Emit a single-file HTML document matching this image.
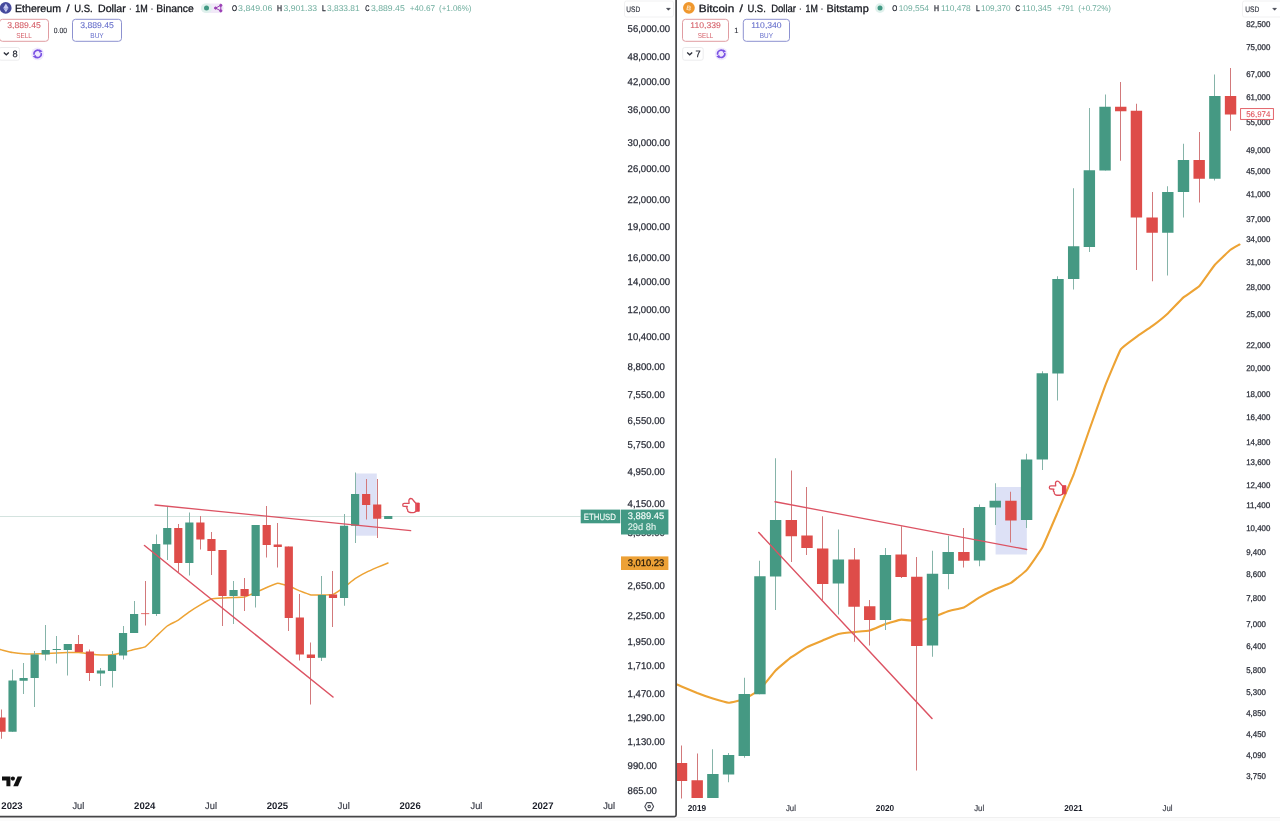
<!DOCTYPE html>
<html lang="en"><head><meta charset="utf-8"><title>ETHUSD / BTCUSD monthly charts</title>
<style>html,body{margin:0;padding:0;background:#fff;}body{width:1280px;height:821px;overflow:hidden;}svg{display:block;}text{font-family:"Liberation Sans",Arial,sans-serif;}</style>
</head><body>
<svg width="1280" height="821" viewBox="0 0 1280 821" font-family="'Liberation Sans', Arial, sans-serif">
<defs><clipPath id="cl"><rect x="0" y="0" width="675.3" height="815.8"/></clipPath><clipPath id="cr"><rect x="677.1" y="0" width="603" height="817"/></clipPath></defs>
<rect width="1280" height="821" fill="#fff"/>
<rect x="0" y="817.4" width="1280" height="3.6" fill="#fbfbfb"/>
<rect x="677" y="817" width="603" height="1" fill="#f0f0f0"/>
<line x1="0" y1="516.5" x2="580.7" y2="516.5" stroke="#d4e3df" stroke-width="1"/>
<rect x="355.6" y="473.5" width="21.2" height="62.2" fill="#dde1f6"/>
<path d="M0.00 649.50 C0.07 649.52 0.87 649.71 1.50 649.86 C2.13 650.01 11.45 652.31 12.55 652.51 C13.66 652.70 22.50 653.76 23.60 653.83 C24.71 653.91 33.55 654.01 34.65 653.99 C35.76 653.97 44.60 653.52 45.70 653.47 C46.80 653.42 55.64 653.02 56.75 652.97 C57.86 652.92 66.70 652.52 67.80 652.50 C68.91 652.48 77.75 652.47 78.85 652.55 C79.96 652.62 88.80 653.91 89.90 654.04 C91.01 654.16 99.84 654.96 100.95 655.00 C102.06 655.03 110.89 654.83 112.00 654.70 C113.11 654.57 121.95 652.75 123.05 652.49 C124.16 652.23 133.00 649.76 134.10 649.48 C135.21 649.19 144.05 647.49 145.15 646.83 C146.25 646.17 155.10 637.34 156.20 636.29 C157.31 635.25 166.15 626.79 167.25 625.98 C168.35 625.17 177.20 620.81 178.30 620.10 C179.41 619.39 188.25 612.54 189.35 611.78 C190.46 611.01 199.30 605.42 200.40 604.78 C201.50 604.14 210.35 599.30 211.45 598.96 C212.56 598.62 221.40 598.05 222.50 597.98 C223.60 597.91 232.45 597.55 233.55 597.50 C234.66 597.45 243.50 597.21 244.60 596.96 C245.71 596.71 254.55 592.91 255.65 592.43 C256.75 591.96 265.60 587.98 266.70 587.52 C267.81 587.06 276.64 583.33 277.75 583.25 C278.86 583.17 287.69 585.57 288.80 585.95 C289.91 586.34 298.75 590.48 299.85 590.93 C300.96 591.38 309.80 594.76 310.90 594.96 C312.01 595.17 320.85 595.03 321.95 595.00 C323.06 594.97 331.89 594.73 333.00 594.34 C334.11 593.95 342.94 588.05 344.05 587.27 C345.16 586.48 354.00 579.43 355.10 578.69 C356.21 577.95 365.05 573.00 366.15 572.43 C367.26 571.87 376.11 567.89 377.20 567.42 C378.29 566.95 387.46 563.22 388.00 563.00" fill="none" stroke="#eda334" stroke-width="1.5" stroke-linejoin="round" stroke-linecap="round"/>
<g clip-path="url(#cl)">
<rect x="1" y="709.50" width="1" height="29.25" fill="#d2797b"/>
<rect x="-2.60" y="717.50" width="8.2" height="14.25" fill="#de4c49"/>
<rect x="12" y="669.50" width="1" height="62.25" fill="#86b4a9"/>
<rect x="8.45" y="680.50" width="8.2" height="51.25" fill="#459983"/>
<rect x="23" y="663.00" width="1" height="31.00" fill="#86b4a9"/>
<rect x="19.50" y="678.00" width="8.2" height="2.75" fill="#459983"/>
<rect x="34" y="651.00" width="1" height="56.00" fill="#86b4a9"/>
<rect x="30.55" y="654.50" width="8.2" height="23.50" fill="#459983"/>
<rect x="45" y="625.00" width="1" height="35.50" fill="#86b4a9"/>
<rect x="41.60" y="650.00" width="8.2" height="4.50" fill="#459983"/>
<rect x="56" y="636.00" width="1" height="27.50" fill="#86b4a9"/>
<rect x="52.65" y="649.00" width="8.2" height="1.00" fill="#459983"/>
<rect x="67" y="644.00" width="1" height="31.50" fill="#86b4a9"/>
<rect x="63.70" y="644.00" width="8.2" height="6.00" fill="#459983"/>
<rect x="78" y="635.00" width="1" height="17.00" fill="#d2797b"/>
<rect x="74.75" y="644.00" width="8.2" height="8.00" fill="#de4c49"/>
<rect x="89" y="649.50" width="1" height="31.50" fill="#d2797b"/>
<rect x="85.80" y="651.50" width="8.2" height="21.50" fill="#de4c49"/>
<rect x="100" y="668.00" width="1" height="18.00" fill="#86b4a9"/>
<rect x="96.85" y="670.50" width="8.2" height="3.00" fill="#459983"/>
<rect x="112" y="651.00" width="1" height="36.50" fill="#86b4a9"/>
<rect x="107.90" y="655.00" width="8.2" height="16.00" fill="#459983"/>
<rect x="123" y="626.00" width="1" height="33.50" fill="#86b4a9"/>
<rect x="118.95" y="633.00" width="8.2" height="22.50" fill="#459983"/>
<rect x="134" y="601.00" width="1" height="32.00" fill="#86b4a9"/>
<rect x="130.00" y="614.00" width="8.2" height="19.00" fill="#459983"/>
<rect x="145" y="581.00" width="1" height="44.50" fill="#d2797b"/>
<rect x="141.05" y="613.30" width="8.2" height="0.80" fill="#de4c49"/>
<rect x="156" y="534.50" width="1" height="81.50" fill="#86b4a9"/>
<rect x="152.10" y="544.00" width="8.2" height="70.00" fill="#459983"/>
<rect x="167" y="507.00" width="1" height="53.00" fill="#86b4a9"/>
<rect x="163.15" y="528.00" width="8.2" height="16.50" fill="#459983"/>
<rect x="178" y="524.00" width="1" height="48.00" fill="#d2797b"/>
<rect x="174.20" y="528.00" width="8.2" height="35.00" fill="#de4c49"/>
<rect x="189" y="512.50" width="1" height="63.00" fill="#86b4a9"/>
<rect x="185.25" y="522.50" width="8.2" height="40.50" fill="#459983"/>
<rect x="200" y="516.00" width="1" height="33.50" fill="#d2797b"/>
<rect x="196.30" y="522.50" width="8.2" height="17.00" fill="#de4c49"/>
<rect x="211" y="532.00" width="1" height="43.00" fill="#d2797b"/>
<rect x="207.35" y="539.00" width="8.2" height="12.00" fill="#de4c49"/>
<rect x="222" y="550.00" width="1" height="76.00" fill="#d2797b"/>
<rect x="218.40" y="550.00" width="8.2" height="46.00" fill="#de4c49"/>
<rect x="233" y="581.00" width="1" height="43.00" fill="#86b4a9"/>
<rect x="229.45" y="590.00" width="8.2" height="6.00" fill="#459983"/>
<rect x="244" y="578.00" width="1" height="33.00" fill="#d2797b"/>
<rect x="240.50" y="589.00" width="8.2" height="7.00" fill="#de4c49"/>
<rect x="255" y="525.00" width="1" height="82.50" fill="#86b4a9"/>
<rect x="251.55" y="525.00" width="8.2" height="71.00" fill="#459983"/>
<rect x="266" y="506.00" width="1" height="51.50" fill="#d2797b"/>
<rect x="262.60" y="525.00" width="8.2" height="20.00" fill="#de4c49"/>
<rect x="277" y="523.00" width="1" height="44.50" fill="#d2797b"/>
<rect x="273.65" y="544.50" width="8.2" height="2.50" fill="#de4c49"/>
<rect x="288" y="546.50" width="1" height="84.50" fill="#d2797b"/>
<rect x="284.70" y="546.50" width="8.2" height="71.50" fill="#de4c49"/>
<rect x="299" y="594.00" width="1" height="66.50" fill="#d2797b"/>
<rect x="295.75" y="617.50" width="8.2" height="37.00" fill="#de4c49"/>
<rect x="310" y="642.50" width="1" height="62.00" fill="#d2797b"/>
<rect x="306.80" y="654.50" width="8.2" height="3.50" fill="#de4c49"/>
<rect x="321" y="576.00" width="1" height="85.00" fill="#86b4a9"/>
<rect x="317.85" y="595.00" width="8.2" height="62.75" fill="#459983"/>
<rect x="332" y="571.00" width="1" height="56.00" fill="#d2797b"/>
<rect x="328.90" y="594.50" width="8.2" height="3.50" fill="#de4c49"/>
<rect x="344" y="514.00" width="1" height="91.75" fill="#86b4a9"/>
<rect x="339.95" y="525.75" width="8.2" height="72.25" fill="#459983"/>
<rect x="355" y="472.50" width="1" height="70.50" fill="#86b4a9"/>
<rect x="351.00" y="494.00" width="8.2" height="31.75" fill="#459983"/>
<rect x="366" y="479.00" width="1" height="40.50" fill="#d2797b"/>
<rect x="362.05" y="494.00" width="8.2" height="11.00" fill="#de4c49"/>
<rect x="377" y="479.00" width="1" height="59.00" fill="#d2797b"/>
<rect x="373.10" y="504.50" width="8.2" height="14.25" fill="#de4c49"/>
<rect x="388" y="516.00" width="1" height="3.00" fill="#86b4a9"/>
<rect x="384.15" y="516.00" width="8.2" height="3.00" fill="#459983"/>
</g>
<line x1="155" y1="505" x2="410.7" y2="530.7" stroke="#dc5363" stroke-width="1.3" stroke-linecap="round"/>
<line x1="144.5" y1="545.5" x2="333" y2="697" stroke="#dc5363" stroke-width="1.5" stroke-linecap="round"/>
<g transform="translate(402.00,497.60) scale(1.0,1.04)" fill="#fff" stroke="#dc4c5a" stroke-width="1.3" stroke-linejoin="round" stroke-linecap="round"><path d="M14 5.7 L11.2 2.5 C10.5 1.3 9.7 0.9 8.8 0.9 C7.5 0.9 6.7 2 6.9 3.5 L7.1 5.5 L2.3 5.5 C0.2 5.5 0.2 8.5 2.3 8.5 L5.3 8.6 C4.6 9.6 4.8 10.8 5.6 11.4 C5.4 12.6 6 13.6 7 14 C8.5 14.6 11 14.5 12.3 14.2 L14 13.3 Z"/><rect x="14.3" y="5.2" width="3" height="8" fill="#e0434e" stroke="#e0434e" stroke-width="0.8"/></g>
<rect x="995.6" y="487" width="31.2" height="67.5" fill="#dde1f6"/>
<path d="M677.00 684.50 C677.23 684.60 680.49 686.01 681.50 686.44 C682.51 686.86 695.62 692.42 697.19 693.03 C698.76 693.64 711.31 698.12 712.87 698.60 C714.44 699.09 726.99 702.69 728.56 702.72 C730.13 702.75 742.68 699.87 744.25 699.21 C745.82 698.55 758.37 690.95 759.93 689.51 C761.50 688.07 774.05 672.09 775.62 670.47 C777.19 668.86 789.74 658.38 791.31 657.21 C792.88 656.04 805.43 647.92 807.00 647.08 C808.56 646.24 821.11 641.08 822.68 640.42 C824.25 639.77 836.80 634.37 838.37 633.96 C839.94 633.54 852.49 632.27 854.06 632.09 C855.63 631.92 868.18 630.90 869.74 630.50 C871.31 630.10 883.86 624.57 885.43 624.03 C887.00 623.49 899.55 619.79 901.12 619.64 C902.69 619.48 915.24 621.09 916.80 620.98 C918.37 620.86 930.92 617.89 932.49 617.40 C934.06 616.91 946.61 611.65 948.18 611.15 C949.75 610.65 962.30 608.12 963.87 607.43 C965.43 606.73 977.98 598.25 979.55 597.34 C981.12 596.44 993.67 589.98 995.24 589.26 C996.81 588.53 1009.36 583.81 1010.93 582.86 C1012.50 581.90 1025.05 571.88 1026.61 570.11 C1028.18 568.35 1040.73 550.49 1042.30 547.56 C1043.87 544.62 1056.42 515.02 1057.99 511.36 C1059.56 507.71 1072.11 478.56 1073.67 474.48 C1075.24 470.40 1087.79 434.18 1089.36 429.76 C1090.93 425.35 1103.48 390.15 1105.05 386.13 C1106.62 382.11 1119.17 351.87 1120.74 349.41 C1122.30 346.95 1134.85 338.04 1136.42 336.88 C1137.99 335.72 1150.54 327.33 1152.11 326.16 C1153.68 324.99 1166.23 314.86 1167.80 313.41 C1169.37 311.97 1181.92 298.69 1183.48 297.34 C1185.05 295.98 1197.60 287.94 1199.17 286.31 C1200.74 284.67 1213.29 266.53 1214.86 264.70 C1216.43 262.87 1229.31 250.72 1230.55 249.71 C1231.78 248.70 1239.05 244.76 1239.50 244.50" fill="none" stroke="#eda334" stroke-width="2.1" stroke-linejoin="round" stroke-linecap="round"/>
<g clip-path="url(#cr)">
<rect x="681" y="745.50" width="1" height="53.00" fill="#d2797b"/>
<rect x="675.80" y="763.00" width="11.4" height="18.00" fill="#de4c49"/>
<rect x="697" y="753.50" width="1" height="44.50" fill="#d2797b"/>
<rect x="691.49" y="780.25" width="11.4" height="17.75" fill="#de4c49"/>
<rect x="712" y="749.25" width="1" height="48.75" fill="#86b4a9"/>
<rect x="707.17" y="774.00" width="11.4" height="24.00" fill="#459983"/>
<rect x="728" y="753.00" width="1" height="29.25" fill="#86b4a9"/>
<rect x="722.86" y="755.00" width="11.4" height="19.50" fill="#459983"/>
<rect x="744" y="677.75" width="1" height="80.00" fill="#86b4a9"/>
<rect x="738.55" y="694.00" width="11.4" height="62.00" fill="#459983"/>
<rect x="759" y="560.75" width="1" height="133.50" fill="#86b4a9"/>
<rect x="754.23" y="576.25" width="11.4" height="118.00" fill="#459983"/>
<rect x="775" y="458.25" width="1" height="151.75" fill="#86b4a9"/>
<rect x="769.92" y="520.00" width="11.4" height="56.50" fill="#459983"/>
<rect x="791" y="470.50" width="1" height="91.50" fill="#d2797b"/>
<rect x="785.61" y="520.00" width="11.4" height="16.25" fill="#de4c49"/>
<rect x="806" y="487.00" width="1" height="68.00" fill="#d2797b"/>
<rect x="801.30" y="535.50" width="11.4" height="12.50" fill="#de4c49"/>
<rect x="822" y="516.25" width="1" height="83.75" fill="#d2797b"/>
<rect x="816.98" y="548.50" width="11.4" height="35.50" fill="#de4c49"/>
<rect x="838" y="529.50" width="1" height="85.00" fill="#86b4a9"/>
<rect x="832.67" y="559.50" width="11.4" height="24.00" fill="#459983"/>
<rect x="854" y="548.00" width="1" height="93.75" fill="#d2797b"/>
<rect x="848.36" y="559.50" width="11.4" height="47.25" fill="#de4c49"/>
<rect x="869" y="600.00" width="1" height="45.50" fill="#d2797b"/>
<rect x="864.04" y="606.25" width="11.4" height="13.75" fill="#de4c49"/>
<rect x="885" y="548.00" width="1" height="82.00" fill="#86b4a9"/>
<rect x="879.73" y="555.00" width="11.4" height="65.00" fill="#459983"/>
<rect x="901" y="526.25" width="1" height="51.75" fill="#d2797b"/>
<rect x="895.42" y="554.50" width="11.4" height="22.50" fill="#de4c49"/>
<rect x="916" y="557.00" width="1" height="213.50" fill="#d2797b"/>
<rect x="911.10" y="576.75" width="11.4" height="69.25" fill="#de4c49"/>
<rect x="932" y="550.75" width="1" height="106.00" fill="#86b4a9"/>
<rect x="926.79" y="573.75" width="11.4" height="71.75" fill="#459983"/>
<rect x="948" y="535.75" width="1" height="53.50" fill="#86b4a9"/>
<rect x="942.48" y="552.00" width="11.4" height="22.00" fill="#459983"/>
<rect x="963" y="528.00" width="1" height="39.50" fill="#d2797b"/>
<rect x="958.17" y="552.00" width="11.4" height="8.75" fill="#de4c49"/>
<rect x="979" y="504.50" width="1" height="61.75" fill="#86b4a9"/>
<rect x="973.85" y="507.00" width="11.4" height="53.50" fill="#459983"/>
<rect x="995" y="483.25" width="1" height="41.75" fill="#86b4a9"/>
<rect x="989.54" y="500.75" width="11.4" height="6.75" fill="#459983"/>
<rect x="1010" y="491.75" width="1" height="50.75" fill="#d2797b"/>
<rect x="1005.23" y="500.75" width="11.4" height="19.75" fill="#de4c49"/>
<rect x="1026" y="453.75" width="1" height="74.25" fill="#86b4a9"/>
<rect x="1020.91" y="459.50" width="11.4" height="60.50" fill="#459983"/>
<rect x="1042" y="371.25" width="1" height="98.75" fill="#86b4a9"/>
<rect x="1036.60" y="373.25" width="11.4" height="86.25" fill="#459983"/>
<rect x="1057" y="276.25" width="1" height="124.25" fill="#86b4a9"/>
<rect x="1052.29" y="279.00" width="11.4" height="94.50" fill="#459983"/>
<rect x="1073" y="188.25" width="1" height="101.25" fill="#86b4a9"/>
<rect x="1067.97" y="246.25" width="11.4" height="32.75" fill="#459983"/>
<rect x="1089" y="108.00" width="1" height="144.00" fill="#86b4a9"/>
<rect x="1083.66" y="170.25" width="11.4" height="76.75" fill="#459983"/>
<rect x="1105" y="94.50" width="1" height="76.00" fill="#86b4a9"/>
<rect x="1099.35" y="106.75" width="11.4" height="63.75" fill="#459983"/>
<rect x="1120" y="82.00" width="1" height="78.75" fill="#d2797b"/>
<rect x="1115.04" y="106.75" width="11.4" height="4.50" fill="#de4c49"/>
<rect x="1136" y="103.75" width="1" height="166.25" fill="#d2797b"/>
<rect x="1130.72" y="110.75" width="11.4" height="106.75" fill="#de4c49"/>
<rect x="1152" y="192.00" width="1" height="89.25" fill="#d2797b"/>
<rect x="1146.41" y="217.50" width="11.4" height="15.25" fill="#de4c49"/>
<rect x="1167" y="186.25" width="1" height="89.25" fill="#86b4a9"/>
<rect x="1162.10" y="192.00" width="11.4" height="40.75" fill="#459983"/>
<rect x="1183" y="143.75" width="1" height="73.75" fill="#86b4a9"/>
<rect x="1177.78" y="160.00" width="11.4" height="32.00" fill="#459983"/>
<rect x="1199" y="132.00" width="1" height="70.50" fill="#d2797b"/>
<rect x="1193.47" y="160.00" width="11.4" height="18.75" fill="#de4c49"/>
<rect x="1214" y="74.50" width="1" height="106.00" fill="#86b4a9"/>
<rect x="1209.16" y="96.00" width="11.4" height="82.75" fill="#459983"/>
<rect x="1230" y="68.00" width="1" height="62.75" fill="#d2797b"/>
<rect x="1224.85" y="96.00" width="11.4" height="18.50" fill="#de4c49"/>
</g>
<line x1="775" y1="501.75" x2="1026.75" y2="549.5" stroke="#dc5363" stroke-width="1.3" stroke-linecap="round"/>
<line x1="758.75" y1="532.5" x2="932" y2="718.5" stroke="#dc5363" stroke-width="1.5" stroke-linecap="round"/>
<g transform="translate(1048.60,480.20) scale(1.0,1.04)" fill="#fff" stroke="#dc4c5a" stroke-width="1.3" stroke-linejoin="round" stroke-linecap="round"><path d="M14 5.7 L11.2 2.5 C10.5 1.3 9.7 0.9 8.8 0.9 C7.5 0.9 6.7 2 6.9 3.5 L7.1 5.5 L2.3 5.5 C0.2 5.5 0.2 8.5 2.3 8.5 L5.3 8.6 C4.6 9.6 4.8 10.8 5.6 11.4 C5.4 12.6 6 13.6 7 14 C8.5 14.6 11 14.5 12.3 14.2 L14 13.3 Z"/><rect x="14.3" y="5.2" width="3" height="8" fill="#e0434e" stroke="#e0434e" stroke-width="0.8"/></g>
<text transform="translate(627.60 32.15) skewX(0.06)" font-size="9.8" fill="#2a2d38" textLength="42.49" lengthAdjust="spacingAndGlyphs" stroke="#2a2d38" stroke-width="0.25">56,000.00</text>
<text transform="translate(627.60 60.30) skewX(0.06)" font-size="9.8" fill="#2a2d38" textLength="42.49" lengthAdjust="spacingAndGlyphs" stroke="#2a2d38" stroke-width="0.25">48,000.00</text>
<text transform="translate(627.60 84.68) skewX(0.06)" font-size="9.8" fill="#2a2d38" textLength="42.49" lengthAdjust="spacingAndGlyphs" stroke="#2a2d38" stroke-width="0.25">42,000.00</text>
<text transform="translate(627.60 112.83) skewX(0.06)" font-size="9.8" fill="#2a2d38" textLength="42.49" lengthAdjust="spacingAndGlyphs" stroke="#2a2d38" stroke-width="0.25">36,000.00</text>
<text transform="translate(627.60 146.12) skewX(0.06)" font-size="9.8" fill="#2a2d38" textLength="42.49" lengthAdjust="spacingAndGlyphs" stroke="#2a2d38" stroke-width="0.25">30,000.00</text>
<text transform="translate(627.60 172.25) skewX(0.06)" font-size="9.8" fill="#2a2d38" textLength="42.49" lengthAdjust="spacingAndGlyphs" stroke="#2a2d38" stroke-width="0.25">26,000.00</text>
<text transform="translate(627.60 202.75) skewX(0.06)" font-size="9.8" fill="#2a2d38" textLength="42.49" lengthAdjust="spacingAndGlyphs" stroke="#2a2d38" stroke-width="0.25">22,000.00</text>
<text transform="translate(627.60 229.52) skewX(0.06)" font-size="9.8" fill="#2a2d38" textLength="42.49" lengthAdjust="spacingAndGlyphs" stroke="#2a2d38" stroke-width="0.25">19,000.00</text>
<text transform="translate(627.60 260.90) skewX(0.06)" font-size="9.8" fill="#2a2d38" textLength="42.49" lengthAdjust="spacingAndGlyphs" stroke="#2a2d38" stroke-width="0.25">16,000.00</text>
<text transform="translate(627.60 285.29) skewX(0.06)" font-size="9.8" fill="#2a2d38" textLength="42.49" lengthAdjust="spacingAndGlyphs" stroke="#2a2d38" stroke-width="0.25">14,000.00</text>
<text transform="translate(627.60 313.43) skewX(0.06)" font-size="9.8" fill="#2a2d38" textLength="42.49" lengthAdjust="spacingAndGlyphs" stroke="#2a2d38" stroke-width="0.25">12,000.00</text>
<text transform="translate(627.60 339.56) skewX(0.06)" font-size="9.8" fill="#2a2d38" textLength="42.49" lengthAdjust="spacingAndGlyphs" stroke="#2a2d38" stroke-width="0.25">10,400.00</text>
<text transform="translate(627.60 370.07) skewX(0.06)" font-size="9.8" fill="#2a2d38" textLength="37.18" lengthAdjust="spacingAndGlyphs" stroke="#2a2d38" stroke-width="0.25">8,800.00</text>
<text transform="translate(627.60 398.04) skewX(0.06)" font-size="9.8" fill="#2a2d38" textLength="37.18" lengthAdjust="spacingAndGlyphs" stroke="#2a2d38" stroke-width="0.25">7,550.00</text>
<text transform="translate(627.60 423.99) skewX(0.06)" font-size="9.8" fill="#2a2d38" textLength="37.18" lengthAdjust="spacingAndGlyphs" stroke="#2a2d38" stroke-width="0.25">6,550.00</text>
<text transform="translate(627.60 447.77) skewX(0.06)" font-size="9.8" fill="#2a2d38" textLength="37.18" lengthAdjust="spacingAndGlyphs" stroke="#2a2d38" stroke-width="0.25">5,750.00</text>
<text transform="translate(627.60 475.13) skewX(0.06)" font-size="9.8" fill="#2a2d38" textLength="37.18" lengthAdjust="spacingAndGlyphs" stroke="#2a2d38" stroke-width="0.25">4,950.00</text>
<text transform="translate(627.60 507.32) skewX(0.06)" font-size="9.8" fill="#2a2d38" textLength="37.18" lengthAdjust="spacingAndGlyphs" stroke="#2a2d38" stroke-width="0.25">4,150.00</text>
<text transform="translate(627.60 535.83) skewX(0.06)" font-size="9.8" fill="#2a2d38" textLength="37.18" lengthAdjust="spacingAndGlyphs" stroke="#2a2d38" stroke-width="0.25">3,550.00</text>
<text transform="translate(627.60 563.55) skewX(0.06)" font-size="9.8" fill="#2a2d38" textLength="37.18" lengthAdjust="spacingAndGlyphs" stroke="#2a2d38" stroke-width="0.25">3,050.00</text>
<text transform="translate(627.60 589.22) skewX(0.06)" font-size="9.8" fill="#2a2d38" textLength="37.18" lengthAdjust="spacingAndGlyphs" stroke="#2a2d38" stroke-width="0.25">2,650.00</text>
<text transform="translate(627.60 619.10) skewX(0.06)" font-size="9.8" fill="#2a2d38" textLength="37.18" lengthAdjust="spacingAndGlyphs" stroke="#2a2d38" stroke-width="0.25">2,250.00</text>
<text transform="translate(627.60 645.23) skewX(0.06)" font-size="9.8" fill="#2a2d38" textLength="37.18" lengthAdjust="spacingAndGlyphs" stroke="#2a2d38" stroke-width="0.25">1,950.00</text>
<text transform="translate(627.60 669.21) skewX(0.06)" font-size="9.8" fill="#2a2d38" textLength="37.18" lengthAdjust="spacingAndGlyphs" stroke="#2a2d38" stroke-width="0.25">1,710.00</text>
<text transform="translate(627.60 696.83) skewX(0.06)" font-size="9.8" fill="#2a2d38" textLength="37.18" lengthAdjust="spacingAndGlyphs" stroke="#2a2d38" stroke-width="0.25">1,470.00</text>
<text transform="translate(627.60 720.68) skewX(0.06)" font-size="9.8" fill="#2a2d38" textLength="37.18" lengthAdjust="spacingAndGlyphs" stroke="#2a2d38" stroke-width="0.25">1,290.00</text>
<text transform="translate(627.60 744.86) skewX(0.06)" font-size="9.8" fill="#2a2d38" textLength="37.18" lengthAdjust="spacingAndGlyphs" stroke="#2a2d38" stroke-width="0.25">1,130.00</text>
<text transform="translate(627.60 769.01) skewX(0.06)" font-size="9.8" fill="#2a2d38" textLength="29.21" lengthAdjust="spacingAndGlyphs" stroke="#2a2d38" stroke-width="0.25">990.00</text>
<text transform="translate(627.60 793.66) skewX(0.06)" font-size="9.8" fill="#2a2d38" textLength="29.21" lengthAdjust="spacingAndGlyphs" stroke="#2a2d38" stroke-width="0.25">865.00</text>
<rect x="580.7" y="509.6" width="39.6" height="13.7" fill="#429984"/>
<text transform="translate(583.80 519.90) skewX(0.06)" font-size="9.0" fill="#f2fbf8" textLength="32.20" lengthAdjust="spacingAndGlyphs" stroke="#f2fbf8" stroke-width="0.15">ETHUSD</text>
<rect x="621" y="509.6" width="47.4" height="24.9" fill="#429984"/>
<text transform="translate(627.70 519.40) skewX(0.06)" font-size="9.5" fill="#f2fbf8" textLength="36.60" lengthAdjust="spacingAndGlyphs" stroke="#f2fbf8" stroke-width="0.15">3,889.45</text>
<text transform="translate(627.70 530.30) skewX(0.06)" font-size="9.5" fill="#e3f4ee" textLength="28.40" lengthAdjust="spacingAndGlyphs" stroke="#e3f4ee" stroke-width="0.1">29d 8h</text>
<rect x="621" y="556.4" width="47.4" height="13.6" fill="#eda136"/>
<text transform="translate(627.70 566.10) skewX(0.06)" font-size="9.5" fill="#20160a" textLength="36.60" lengthAdjust="spacingAndGlyphs" stroke="#20160a" stroke-width="0.25">3,010.23</text>
<rect x="624.5" y="1" width="49" height="16" rx="2" fill="#fff" stroke="#f1f1f2" stroke-width="1"/>
<text transform="translate(626.30 11.90) skewX(0.06)" font-size="8.0" fill="#3a3d48" textLength="13.90" lengthAdjust="spacingAndGlyphs" stroke="#3a3d48" stroke-width="0.2">USD</text>
<path d="M666.5 8.3 h3.8 l-1.9 2 z" fill="#3a3d48" stroke="#3a3d48" stroke-width="0.5" stroke-linejoin="round"/>
<text transform="translate(12.00 809.20) skewX(0.06)" font-size="9.6" fill="#1c1f2a" font-weight="bold" text-anchor="middle" textLength="21.30" lengthAdjust="spacingAndGlyphs">2023</text>
<text transform="translate(78.35 809.20) skewX(0.06)" font-size="9.6" fill="#3c3f4a" text-anchor="middle" textLength="11.90" lengthAdjust="spacingAndGlyphs" stroke="#3c3f4a" stroke-width="0.2">Jul</text>
<text transform="translate(144.70 809.20) skewX(0.06)" font-size="9.6" fill="#1c1f2a" font-weight="bold" text-anchor="middle" textLength="21.30" lengthAdjust="spacingAndGlyphs">2024</text>
<text transform="translate(211.05 809.20) skewX(0.06)" font-size="9.6" fill="#3c3f4a" text-anchor="middle" textLength="11.90" lengthAdjust="spacingAndGlyphs" stroke="#3c3f4a" stroke-width="0.2">Jul</text>
<text transform="translate(277.40 809.20) skewX(0.06)" font-size="9.6" fill="#1c1f2a" font-weight="bold" text-anchor="middle" textLength="21.30" lengthAdjust="spacingAndGlyphs">2025</text>
<text transform="translate(343.75 809.20) skewX(0.06)" font-size="9.6" fill="#3c3f4a" text-anchor="middle" textLength="11.90" lengthAdjust="spacingAndGlyphs" stroke="#3c3f4a" stroke-width="0.2">Jul</text>
<text transform="translate(410.10 809.20) skewX(0.06)" font-size="9.6" fill="#1c1f2a" font-weight="bold" text-anchor="middle" textLength="21.30" lengthAdjust="spacingAndGlyphs">2026</text>
<text transform="translate(476.45 809.20) skewX(0.06)" font-size="9.6" fill="#3c3f4a" text-anchor="middle" textLength="11.90" lengthAdjust="spacingAndGlyphs" stroke="#3c3f4a" stroke-width="0.2">Jul</text>
<text transform="translate(542.80 809.20) skewX(0.06)" font-size="9.6" fill="#1c1f2a" font-weight="bold" text-anchor="middle" textLength="21.30" lengthAdjust="spacingAndGlyphs">2027</text>
<text transform="translate(609.15 809.20) skewX(0.06)" font-size="9.6" fill="#3c3f4a" text-anchor="middle" textLength="11.90" lengthAdjust="spacingAndGlyphs" stroke="#3c3f4a" stroke-width="0.2">Jul</text>
<g transform="translate(649.2,806.6)" fill="none" stroke="#4a4d57" stroke-width="1.1"><path d="M-2.2 -4 L2.2 -4 L4.4 0 L2.2 4 L-2.2 4 L-4.4 0 Z" stroke-linejoin="round"/><circle r="1.2"/></g>
<g fill="#111"><path d="M2 776.4 H10.4 V786.2 H6.4 V780.4 H2 Z"/><circle cx="12.9" cy="778.6" r="2.1"/><path d="M17.6 776.4 H22.2 L18 786.2 H13.3 Z"/></g>
<text transform="translate(1246.20 26.54) skewX(0.06)" font-size="8.3" fill="#2a2d38" textLength="24.17" lengthAdjust="spacingAndGlyphs" stroke="#2a2d38" stroke-width="0.25">82,500</text>
<text transform="translate(1246.20 49.73) skewX(0.06)" font-size="8.3" fill="#2a2d38" textLength="24.17" lengthAdjust="spacingAndGlyphs" stroke="#2a2d38" stroke-width="0.25">75,000</text>
<text transform="translate(1246.20 77.19) skewX(0.06)" font-size="8.3" fill="#2a2d38" textLength="24.17" lengthAdjust="spacingAndGlyphs" stroke="#2a2d38" stroke-width="0.25">67,000</text>
<text transform="translate(1246.20 100.02) skewX(0.06)" font-size="8.3" fill="#2a2d38" textLength="24.17" lengthAdjust="spacingAndGlyphs" stroke="#2a2d38" stroke-width="0.25">61,000</text>
<text transform="translate(1246.20 125.23) skewX(0.06)" font-size="8.3" fill="#2a2d38" textLength="24.17" lengthAdjust="spacingAndGlyphs" stroke="#2a2d38" stroke-width="0.25">55,000</text>
<text transform="translate(1246.20 153.34) skewX(0.06)" font-size="8.3" fill="#2a2d38" textLength="24.17" lengthAdjust="spacingAndGlyphs" stroke="#2a2d38" stroke-width="0.25">49,000</text>
<text transform="translate(1246.20 174.07) skewX(0.06)" font-size="8.3" fill="#2a2d38" textLength="24.17" lengthAdjust="spacingAndGlyphs" stroke="#2a2d38" stroke-width="0.25">45,000</text>
<text transform="translate(1246.20 196.73) skewX(0.06)" font-size="8.3" fill="#2a2d38" textLength="24.17" lengthAdjust="spacingAndGlyphs" stroke="#2a2d38" stroke-width="0.25">41,000</text>
<text transform="translate(1246.20 221.71) skewX(0.06)" font-size="8.3" fill="#2a2d38" textLength="24.17" lengthAdjust="spacingAndGlyphs" stroke="#2a2d38" stroke-width="0.25">37,000</text>
<text transform="translate(1246.20 242.29) skewX(0.06)" font-size="8.3" fill="#2a2d38" textLength="24.17" lengthAdjust="spacingAndGlyphs" stroke="#2a2d38" stroke-width="0.25">34,000</text>
<text transform="translate(1246.20 264.78) skewX(0.06)" font-size="8.3" fill="#2a2d38" textLength="24.17" lengthAdjust="spacingAndGlyphs" stroke="#2a2d38" stroke-width="0.25">31,000</text>
<text transform="translate(1246.20 289.55) skewX(0.06)" font-size="8.3" fill="#2a2d38" textLength="24.17" lengthAdjust="spacingAndGlyphs" stroke="#2a2d38" stroke-width="0.25">28,000</text>
<text transform="translate(1246.20 317.14) skewX(0.06)" font-size="8.3" fill="#2a2d38" textLength="24.17" lengthAdjust="spacingAndGlyphs" stroke="#2a2d38" stroke-width="0.25">25,000</text>
<text transform="translate(1246.20 348.25) skewX(0.06)" font-size="8.3" fill="#2a2d38" textLength="24.17" lengthAdjust="spacingAndGlyphs" stroke="#2a2d38" stroke-width="0.25">22,000</text>
<text transform="translate(1246.20 371.45) skewX(0.06)" font-size="8.3" fill="#2a2d38" textLength="24.17" lengthAdjust="spacingAndGlyphs" stroke="#2a2d38" stroke-width="0.25">20,000</text>
<text transform="translate(1246.20 397.09) skewX(0.06)" font-size="8.3" fill="#2a2d38" textLength="24.17" lengthAdjust="spacingAndGlyphs" stroke="#2a2d38" stroke-width="0.25">18,000</text>
<text transform="translate(1246.20 419.75) skewX(0.06)" font-size="8.3" fill="#2a2d38" textLength="24.17" lengthAdjust="spacingAndGlyphs" stroke="#2a2d38" stroke-width="0.25">16,400</text>
<text transform="translate(1246.20 444.74) skewX(0.06)" font-size="8.3" fill="#2a2d38" textLength="24.17" lengthAdjust="spacingAndGlyphs" stroke="#2a2d38" stroke-width="0.25">14,800</text>
<text transform="translate(1246.20 465.32) skewX(0.06)" font-size="8.3" fill="#2a2d38" textLength="24.17" lengthAdjust="spacingAndGlyphs" stroke="#2a2d38" stroke-width="0.25">13,600</text>
<text transform="translate(1246.20 487.80) skewX(0.06)" font-size="8.3" fill="#2a2d38" textLength="24.17" lengthAdjust="spacingAndGlyphs" stroke="#2a2d38" stroke-width="0.25">12,400</text>
<text transform="translate(1246.20 508.27) skewX(0.06)" font-size="8.3" fill="#2a2d38" textLength="24.17" lengthAdjust="spacingAndGlyphs" stroke="#2a2d38" stroke-width="0.25">11,400</text>
<text transform="translate(1246.20 530.61) skewX(0.06)" font-size="8.3" fill="#2a2d38" textLength="24.17" lengthAdjust="spacingAndGlyphs" stroke="#2a2d38" stroke-width="0.25">10,400</text>
<text transform="translate(1246.20 555.22) skewX(0.06)" font-size="8.3" fill="#2a2d38" textLength="19.77" lengthAdjust="spacingAndGlyphs" stroke="#2a2d38" stroke-width="0.25">9,400</text>
<text transform="translate(1246.20 576.87) skewX(0.06)" font-size="8.3" fill="#2a2d38" textLength="19.77" lengthAdjust="spacingAndGlyphs" stroke="#2a2d38" stroke-width="0.25">8,600</text>
<text transform="translate(1246.20 600.64) skewX(0.06)" font-size="8.3" fill="#2a2d38" textLength="19.77" lengthAdjust="spacingAndGlyphs" stroke="#2a2d38" stroke-width="0.25">7,800</text>
<text transform="translate(1246.20 626.98) skewX(0.06)" font-size="8.3" fill="#2a2d38" textLength="19.77" lengthAdjust="spacingAndGlyphs" stroke="#2a2d38" stroke-width="0.25">7,000</text>
<text transform="translate(1246.20 648.79) skewX(0.06)" font-size="8.3" fill="#2a2d38" textLength="19.77" lengthAdjust="spacingAndGlyphs" stroke="#2a2d38" stroke-width="0.25">6,400</text>
<text transform="translate(1246.20 672.75) skewX(0.06)" font-size="8.3" fill="#2a2d38" textLength="19.77" lengthAdjust="spacingAndGlyphs" stroke="#2a2d38" stroke-width="0.25">5,800</text>
<text transform="translate(1246.20 694.69) skewX(0.06)" font-size="8.3" fill="#2a2d38" textLength="19.77" lengthAdjust="spacingAndGlyphs" stroke="#2a2d38" stroke-width="0.25">5,300</text>
<text transform="translate(1246.20 716.29) skewX(0.06)" font-size="8.3" fill="#2a2d38" textLength="19.77" lengthAdjust="spacingAndGlyphs" stroke="#2a2d38" stroke-width="0.25">4,850</text>
<text transform="translate(1246.20 737.24) skewX(0.06)" font-size="8.3" fill="#2a2d38" textLength="19.77" lengthAdjust="spacingAndGlyphs" stroke="#2a2d38" stroke-width="0.25">4,450</text>
<text transform="translate(1246.20 757.77) skewX(0.06)" font-size="8.3" fill="#2a2d38" textLength="19.77" lengthAdjust="spacingAndGlyphs" stroke="#2a2d38" stroke-width="0.25">4,090</text>
<text transform="translate(1246.20 778.90) skewX(0.06)" font-size="8.3" fill="#2a2d38" textLength="19.77" lengthAdjust="spacingAndGlyphs" stroke="#2a2d38" stroke-width="0.25">3,750</text>
<rect x="1240.6" y="108.6" width="32.8" height="10.8" fill="#fff" stroke="#e0525a" stroke-width="0.9"/>
<text transform="translate(1246.20 116.90) skewX(0.06)" font-size="8.3" fill="#e0525a" textLength="24.20" lengthAdjust="spacingAndGlyphs" stroke="#e0525a" stroke-width="0.1">56,974</text>
<rect x="1242.5" y="1" width="40" height="16" rx="2" fill="#fff" stroke="#f1f1f2" stroke-width="1"/>
<text transform="translate(1245.20 11.90) skewX(0.06)" font-size="8.0" fill="#3a3d48" textLength="14.10" lengthAdjust="spacingAndGlyphs" stroke="#3a3d48" stroke-width="0.2">USD</text>
<path d="M1272.7 8.3 h3.8 l-1.9 2 z" fill="#3a3d48" stroke="#3a3d48" stroke-width="0.5" stroke-linejoin="round"/>
<text transform="translate(696.90 810.80) skewX(0.06)" font-size="8.7" fill="#1c1f2a" font-weight="bold" text-anchor="middle" textLength="18.40" lengthAdjust="spacingAndGlyphs">2019</text>
<text transform="translate(790.90 810.80) skewX(0.06)" font-size="8.5" fill="#3c3f4a" text-anchor="middle" textLength="10.00" lengthAdjust="spacingAndGlyphs" stroke="#3c3f4a" stroke-width="0.2">Jul</text>
<text transform="translate(885.00 810.80) skewX(0.06)" font-size="8.7" fill="#1c1f2a" font-weight="bold" text-anchor="middle" textLength="18.40" lengthAdjust="spacingAndGlyphs">2020</text>
<text transform="translate(979.20 810.80) skewX(0.06)" font-size="8.5" fill="#3c3f4a" text-anchor="middle" textLength="10.00" lengthAdjust="spacingAndGlyphs" stroke="#3c3f4a" stroke-width="0.2">Jul</text>
<text transform="translate(1073.40 810.80) skewX(0.06)" font-size="8.7" fill="#1c1f2a" font-weight="bold" text-anchor="middle" textLength="18.40" lengthAdjust="spacingAndGlyphs">2021</text>
<text transform="translate(1167.50 810.80) skewX(0.06)" font-size="8.5" fill="#3c3f4a" text-anchor="middle" textLength="10.00" lengthAdjust="spacingAndGlyphs" stroke="#3c3f4a" stroke-width="0.2">Jul</text>
<path d="M676.1 0 V815 Q676.1 816.6 674.5 816.6 H0" fill="none" stroke="#454547" stroke-width="1.7"/>
<circle cx="5.7" cy="7.9" r="5.9" fill="#464a9d"/>
<path d="M5.9 3.6 L8.5 7.9 L5.9 12.2 L3.3 7.9 Z" fill="#c9ccf0"/><path d="M3.3 7.9 L5.9 9.3 L8.5 7.9" fill="none" stroke="#7f84cf" stroke-width="0.6"/>
<text transform="translate(0 12.0) skewX(0.06)" font-size="10.5" fill="#16181f" stroke="#16181f" stroke-width="0.3" xml:space="preserve"><tspan x="15.00" textLength="46.00" lengthAdjust="spacingAndGlyphs">Ethereum</tspan><tspan x="66.20" font-size="0.1"> </tspan><tspan x="66.20" textLength="3.40" lengthAdjust="spacingAndGlyphs">/</tspan><tspan x="74.20" font-size="0.1"> </tspan><tspan x="74.20" textLength="18.40" lengthAdjust="spacingAndGlyphs">U.S.</tspan><tspan x="98.00" font-size="0.1"> </tspan><tspan x="98.00" textLength="27.80" lengthAdjust="spacingAndGlyphs">Dollar</tspan><tspan x="129.30" font-size="0.1"> </tspan><tspan x="129.30" textLength="2.00" lengthAdjust="spacingAndGlyphs">·</tspan><tspan x="135.20" font-size="0.1"> </tspan><tspan x="135.20" textLength="12.50" lengthAdjust="spacingAndGlyphs">1M</tspan><tspan x="151.00" font-size="0.1"> </tspan><tspan x="151.00" textLength="2.00" lengthAdjust="spacingAndGlyphs">·</tspan><tspan x="156.30" font-size="0.1"> </tspan><tspan x="156.30" textLength="37.40" lengthAdjust="spacingAndGlyphs">Binance</tspan></text>
<rect x="201" y="3.4" width="22.6" height="9.6" rx="4.8" fill="#f1e9f8"/>
<rect x="201" y="3.4" width="11" height="9.6" rx="4.8" fill="#dff1ec"/>
<circle cx="206.5" cy="8.1" r="2.5" fill="#429984"/>
<g stroke="#9a3db5" stroke-width="1" fill="#9a3db5"><path d="M215.6 8.1 L220.8 5.3 M215.6 8.1 L220.8 10.9 M220.8 5.3 V10.9" fill="none"/><circle cx="215.6" cy="8.1" r="1.1"/><circle cx="220.8" cy="5.3" r="1.1"/><circle cx="220.8" cy="10.9" r="1.1"/></g>
<text transform="translate(231.90 11.15) skewX(0.06)" font-size="8.3" fill="#1c1f2a" textLength="5.00" lengthAdjust="spacingAndGlyphs" stroke="#1c1f2a" stroke-width="0.3">O</text>
<text transform="translate(238.10 11.15) skewX(0.06)" font-size="8.3" fill="#6dad9d" textLength="34.20" lengthAdjust="spacingAndGlyphs">3,849.06</text>
<text transform="translate(276.90 11.15) skewX(0.06)" font-size="8.3" fill="#1c1f2a" textLength="5.00" lengthAdjust="spacingAndGlyphs" stroke="#1c1f2a" stroke-width="0.3">H</text>
<text transform="translate(283.50 11.15) skewX(0.06)" font-size="8.3" fill="#6dad9d" textLength="33.50" lengthAdjust="spacingAndGlyphs">3,901.33</text>
<text transform="translate(321.90 11.15) skewX(0.06)" font-size="8.3" fill="#1c1f2a" textLength="3.70" lengthAdjust="spacingAndGlyphs" stroke="#1c1f2a" stroke-width="0.3">L</text>
<text transform="translate(327.00 11.15) skewX(0.06)" font-size="8.3" fill="#6dad9d" textLength="32.70" lengthAdjust="spacingAndGlyphs">3,833.81</text>
<text transform="translate(365.20 11.15) skewX(0.06)" font-size="8.3" fill="#1c1f2a" textLength="4.20" lengthAdjust="spacingAndGlyphs" stroke="#1c1f2a" stroke-width="0.3">C</text>
<text transform="translate(371.00 11.15) skewX(0.06)" font-size="8.3" fill="#6dad9d" textLength="33.70" lengthAdjust="spacingAndGlyphs">3,889.45</text>
<text transform="translate(409.70 11.15) skewX(0.06)" font-size="8.3" fill="#6dad9d" textLength="25.50" lengthAdjust="spacingAndGlyphs">+40.67</text>
<text transform="translate(439.00 11.15) skewX(0.06)" font-size="8.3" fill="#6dad9d" textLength="32.40" lengthAdjust="spacingAndGlyphs">(+1.06%)</text>
<rect x="-0.5" y="19.3" width="49" height="22" rx="3" fill="#fff" stroke="#e09da2" stroke-width="1"/>
<text transform="translate(24.00 28.15) skewX(0.06)" font-size="8.3" fill="#d45c66" text-anchor="middle" textLength="33.60" lengthAdjust="spacingAndGlyphs" stroke="#d45c66" stroke-width="0.1">3,889.45</text>
<text transform="translate(24.00 37.50) skewX(0.06)" font-size="7.2" fill="#d45c66" text-anchor="middle" textLength="15.60" lengthAdjust="spacingAndGlyphs">SELL</text>
<text transform="translate(60.40 32.70) skewX(0.06)" font-size="7.6" fill="#2a2d38" text-anchor="middle" textLength="13.20" lengthAdjust="spacingAndGlyphs" stroke="#2a2d38" stroke-width="0.1">0.00</text>
<rect x="72.5" y="19.3" width="49" height="22" rx="3" fill="#fff" stroke="#8d92d0" stroke-width="1"/>
<text transform="translate(97.00 28.15) skewX(0.06)" font-size="8.3" fill="#666ecb" text-anchor="middle" textLength="33.60" lengthAdjust="spacingAndGlyphs" stroke="#666ecb" stroke-width="0.1">3,889.45</text>
<text transform="translate(97.00 37.50) skewX(0.06)" font-size="7.2" fill="#666ecb" text-anchor="middle" textLength="13.40" lengthAdjust="spacingAndGlyphs">BUY</text>
<rect x="-1" y="47.5" width="20.5" height="12.7" rx="2" fill="#fff" stroke="#ececee" stroke-width="1"/>
<path d="M3.8 52.5 l2.5 2.3 l2.5 -2.3" fill="none" stroke="#2a2d38" stroke-width="1.3"/>
<text transform="translate(12.60 56.70) skewX(0.06)" font-size="9.2" fill="#2a2d38" stroke="#2a2d38" stroke-width="0.25">8</text>
<circle cx="37.65" cy="53.9" r="6.4" fill="#f0e9fd"/>
<g transform="translate(37.65,53.9)" fill="none" stroke="#7a52e4" stroke-width="1.6" stroke-linecap="butt"><path d="M-3.5 0.9 A3.6 3.6 0 0 1 2.6 -2.5"/><path d="M3.5 -0.9 A3.6 3.6 0 0 1 -2.6 2.5"/></g>
<g transform="translate(37.65,53.9)" fill="#7a52e4"><path d="M1.6 -4.6 L4.9 -2.6 L1.9 -0.9 Z"/><path d="M-1.6 4.6 L-4.9 2.6 L-1.9 0.9 Z"/></g>
<circle cx="688.9" cy="7.8" r="5.9" fill="#f0982e"/>
<text transform="translate(688.9 10.25) rotate(12 0 -2.4)" font-size="6.6" font-weight="bold" fill="#fbe3bf" text-anchor="middle">B</text>
<text transform="translate(0 12.0) skewX(0.06)" font-size="10.5" fill="#16181f" stroke="#16181f" stroke-width="0.3" xml:space="preserve"><tspan x="698.80" textLength="35.40" lengthAdjust="spacingAndGlyphs">Bitcoin</tspan><tspan x="739.40" font-size="0.1"> </tspan><tspan x="739.40" textLength="3.40" lengthAdjust="spacingAndGlyphs">/</tspan><tspan x="747.40" font-size="0.1"> </tspan><tspan x="747.40" textLength="18.40" lengthAdjust="spacingAndGlyphs">U.S.</tspan><tspan x="771.20" font-size="0.1"> </tspan><tspan x="771.20" textLength="24.80" lengthAdjust="spacingAndGlyphs">Dollar</tspan><tspan x="799.30" font-size="0.1"> </tspan><tspan x="799.30" textLength="2.00" lengthAdjust="spacingAndGlyphs">·</tspan><tspan x="805.60" font-size="0.1"> </tspan><tspan x="805.60" textLength="12.30" lengthAdjust="spacingAndGlyphs">1M</tspan><tspan x="821.00" font-size="0.1"> </tspan><tspan x="821.00" textLength="2.00" lengthAdjust="spacingAndGlyphs">·</tspan><tspan x="826.50" font-size="0.1"> </tspan><tspan x="826.50" textLength="42.20" lengthAdjust="spacingAndGlyphs">Bitstamp</tspan></text>
<circle cx="880" cy="8.1" r="4.9" fill="#dff1ec"/>
<circle cx="880" cy="8.1" r="2.5" fill="#429984"/>
<text transform="translate(892.20 11.15) skewX(0.06)" font-size="8.3" fill="#1c1f2a" textLength="5.00" lengthAdjust="spacingAndGlyphs" stroke="#1c1f2a" stroke-width="0.3">O</text>
<text transform="translate(898.70 11.15) skewX(0.06)" font-size="8.3" fill="#6dad9d" textLength="30.30" lengthAdjust="spacingAndGlyphs">109,554</text>
<text transform="translate(934.00 11.15) skewX(0.06)" font-size="8.3" fill="#1c1f2a" textLength="5.00" lengthAdjust="spacingAndGlyphs" stroke="#1c1f2a" stroke-width="0.3">H</text>
<text transform="translate(941.00 11.15) skewX(0.06)" font-size="8.3" fill="#6dad9d" textLength="29.80" lengthAdjust="spacingAndGlyphs">110,478</text>
<text transform="translate(976.00 11.15) skewX(0.06)" font-size="8.3" fill="#1c1f2a" textLength="3.70" lengthAdjust="spacingAndGlyphs" stroke="#1c1f2a" stroke-width="0.3">L</text>
<text transform="translate(981.00 11.15) skewX(0.06)" font-size="8.3" fill="#6dad9d" textLength="29.60" lengthAdjust="spacingAndGlyphs">109,370</text>
<text transform="translate(1015.60 11.15) skewX(0.06)" font-size="8.3" fill="#1c1f2a" textLength="4.40" lengthAdjust="spacingAndGlyphs" stroke="#1c1f2a" stroke-width="0.3">C</text>
<text transform="translate(1021.90 11.15) skewX(0.06)" font-size="8.3" fill="#6dad9d" textLength="29.80" lengthAdjust="spacingAndGlyphs">110,345</text>
<text transform="translate(1056.90 11.15) skewX(0.06)" font-size="8.3" fill="#6dad9d" textLength="17.00" lengthAdjust="spacingAndGlyphs">+791</text>
<text transform="translate(1078.30 11.15) skewX(0.06)" font-size="8.3" fill="#6dad9d" textLength="32.70" lengthAdjust="spacingAndGlyphs">(+0.72%)</text>
<rect x="682.5" y="19.3" width="46" height="22" rx="3" fill="#fff" stroke="#e09da2" stroke-width="1"/>
<text transform="translate(705.50 28.15) skewX(0.06)" font-size="8.3" fill="#d45c66" text-anchor="middle" textLength="30.40" lengthAdjust="spacingAndGlyphs" stroke="#d45c66" stroke-width="0.1">110,339</text>
<text transform="translate(705.50 37.50) skewX(0.06)" font-size="7.2" fill="#d45c66" text-anchor="middle" textLength="15.30" lengthAdjust="spacingAndGlyphs">SELL</text>
<text transform="translate(736.30 32.70) skewX(0.06)" font-size="7.6" fill="#2a2d38" text-anchor="middle" stroke="#2a2d38" stroke-width="0.1">1</text>
<rect x="743.3" y="19.3" width="46.2" height="22" rx="3" fill="#fff" stroke="#8d92d0" stroke-width="1"/>
<text transform="translate(766.40 28.15) skewX(0.06)" font-size="8.3" fill="#666ecb" text-anchor="middle" textLength="30.40" lengthAdjust="spacingAndGlyphs" stroke="#666ecb" stroke-width="0.1">110,340</text>
<text transform="translate(766.40 37.50) skewX(0.06)" font-size="7.2" fill="#666ecb" text-anchor="middle" textLength="13.20" lengthAdjust="spacingAndGlyphs">BUY</text>
<rect x="682.7" y="47.5" width="20.5" height="12.7" rx="2" fill="#fff" stroke="#ececee" stroke-width="1"/>
<path d="M687.2 52.5 l2.5 2.3 l2.5 -2.3" fill="none" stroke="#2a2d38" stroke-width="1.3"/>
<text transform="translate(695.60 56.70) skewX(0.06)" font-size="9.2" fill="#2a2d38" stroke="#2a2d38" stroke-width="0.25">7</text>
<circle cx="721.2" cy="53.8" r="6.4" fill="#f0e9fd"/>
<g transform="translate(721.2,53.8)" fill="none" stroke="#7a52e4" stroke-width="1.6" stroke-linecap="butt"><path d="M-3.5 0.9 A3.6 3.6 0 0 1 2.6 -2.5"/><path d="M3.5 -0.9 A3.6 3.6 0 0 1 -2.6 2.5"/></g>
<g transform="translate(721.2,53.8)" fill="#7a52e4"><path d="M1.6 -4.6 L4.9 -2.6 L1.9 -0.9 Z"/><path d="M-1.6 4.6 L-4.9 2.6 L-1.9 0.9 Z"/></g>
</svg>
</body></html>
